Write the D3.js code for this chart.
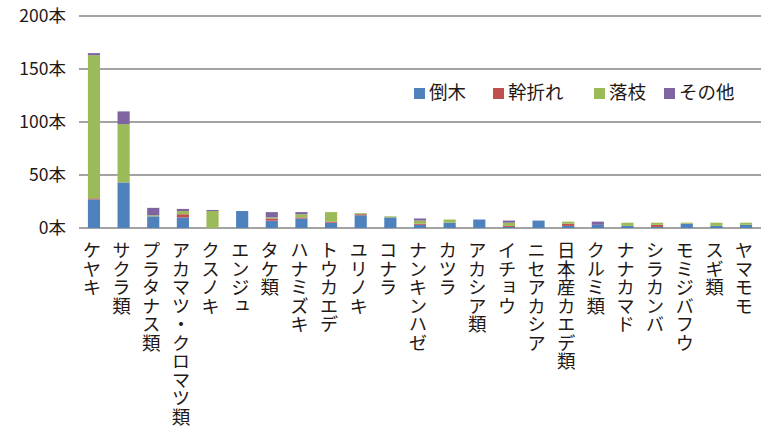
<!DOCTYPE html>
<html>
<head>
<meta charset="utf-8">
<script src="https://cdn.jsdelivr.net/npm/d3@7"></script>
<style>
  body { margin: 0; background: #fff; }
  svg { font-family: "Noto Sans CJK JP", "Noto Sans", sans-serif; }
</style>
</head>
<body>
<div id="chart"></div>
<script>
  const categories = ["ケヤキ", "サクラ類", "プラタナス類", "アカマツ・クロマツ類", "クスノキ", "エンジュ",
    "タケ類", "ハナミズキ", "トウカエデ", "ユリノキ", "コナラ", "ナンキンハゼ", "カツラ", "アカシア類",
    "イチョウ", "ニセアカシア", "日本産カエデ類", "クルミ類", "ナナカマド", "シラカンバ", "モミジバフウ",
    "スギ類", "ヤマモモ"];
  const seriesNames = ["倒木", "幹折れ", "落枝", "その他"];
  const fallen = [27, 43, 11, 10, 0, 16, 7, 9, 5, 12, 10, 3, 5, 8, 1, 7, 2, 3, 2, 1, 4, 2, 3];
  const trunkBroken = [1, 0, 0, 3, 0, 0, 2, 1, 1, 1, 0, 1, 0, 0, 1, 0, 2, 0, 0, 2, 0, 0, 0];
  const branchDrop = [135, 55, 1, 3, 16, 0, 1, 3, 9, 1, 1, 3, 3, 0, 3, 0, 2, 0, 3, 2, 1, 3, 2];
  const other = [2, 12, 7, 2, 1, 0, 5, 2, 0, 0, 0, 2, 0, 0, 2, 0, 0, 3, 0, 0, 0, 0, 0];
  const yTicks = [0, 50, 100, 150, 200];
  const colors = ["#4f81bd", "#c0504d", "#9bbb59", "#8064a2"];

  const width = 770;
  const height = 431;

  const rows = categories.map((c, i) => ({
    name: c,
    "倒木": fallen[i],
    "幹折れ": trunkBroken[i],
    "落枝": branchDrop[i],
    "その他": other[i]
  }));

  const svg = d3.select("#chart").append("svg")
    .attr("width", width)
    .attr("height", height);

  const x = d3.scaleBand().domain(categories).range([79, 761]).paddingInner(0.59).paddingOuter(0.3);
  const y = d3.scaleLinear().domain([0, 200]).range([228, 16]);
  const color = d3.scaleOrdinal().domain(seriesNames).range(colors);

  // grid lines
  svg.append("g")
    .selectAll("line")
    .data(yTicks)
    .join("line")
    .attr("x1", 79)
    .attr("x2", 761)
    .attr("y1", d => y(d))
    .attr("y2", d => y(d))
    .attr("stroke", "#a3a3a3")
    .attr("stroke-width", 2);

  svg.append("g")
    .selectAll("text")
    .data(yTicks)
    .join("text")
    .attr("x", 66)
    .attr("y", d => y(d))
    .attr("dy", "0.36em")
    .attr("text-anchor", "end")
    .style("font-size", "17.5px")
    .attr("fill", "#231815")
    .text(d => d + "本");

  const stacked = d3.stack().keys(seriesNames)(rows);

  svg.append("g")
    .selectAll("g")
    .data(stacked)
    .join("g")
    .attr("fill", d => color(d.key))
    .selectAll("rect")
    .data(d => d)
    .join("rect")
    .attr("x", d => x(d.data.name))
    .attr("width", x.bandwidth())
    .attr("y", d => y(d[1]))
    .attr("height", d => y(d[0]) - y(d[1]));

  // category labels, written vertically
  svg.append("g")
    .selectAll("text")
    .data(categories)
    .join("text")
    .attr("x", d => x(d) + x.bandwidth() / 2 - 2)
    .attr("y", 241)
    .style("writing-mode", "vertical-rl")
    .style("font-size", "18.5px")
    .attr("fill", "#231815")
    .text(d => d);

  // legend
  const legendX = [414, 493, 594, 664];
  const legend = svg.append("g")
    .selectAll("g")
    .data(seriesNames)
    .join("g")
    .attr("transform", (d, i) => `translate(${legendX[i]},92)`);

  legend.append("rect")
    .attr("y", -4)
    .attr("width", 11)
    .attr("height", 11)
    .attr("fill", d => color(d));

  legend.append("text")
    .attr("x", 15)
    .attr("dy", "0.36em")
    .style("font-size", "18.5px")
    .attr("fill", "#231815")
    .text(d => d);
</script>
</body>
</html>
